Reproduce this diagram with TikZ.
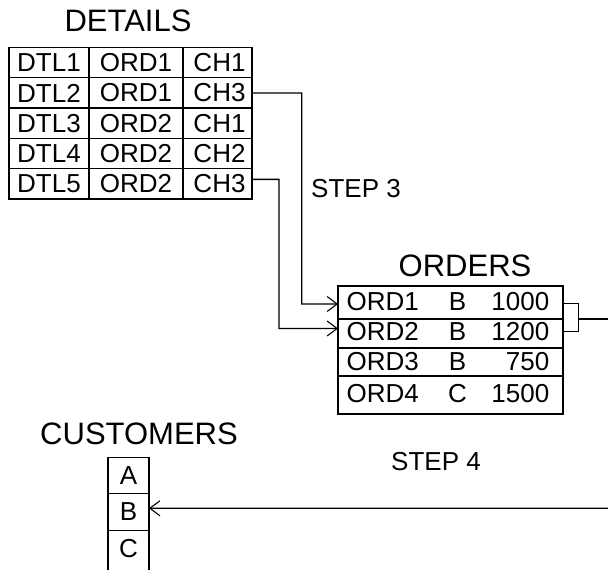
\documentclass[tikz,border=0pt]{standalone}
\usepackage{fontspec}
\setmainfont{Liberation Sans}
\usetikzlibrary{arrows.meta}
\begin{document}
\begin{tikzpicture}[x=1bp,y=-1bp,
  cell/.style={draw,line width=1.3bp,rectangle,inner sep=0pt,outer sep=0pt,anchor=north west},
  celltext/.style={font=\fontsize{26bp}{26bp}\selectfont,inner sep=0pt},
  title/.style={font=\fontsize{31bp}{31bp}\selectfont,inner sep=0pt},
  conn/.style={line width=1.3bp},
  arr/.style={conn,-{Straight Barb[length=10bp,width=15bp,line width=1.1bp]}}]
\clip (0,0) rectangle (608,570);
\fill[white] (0,0) rectangle (608,570);
% DETAILS
\node[title] (tdet) at (128,21) {DETAILS};
\foreach \r/\a/\b/\c [count=\i] in {1/DTL1/ORD1/CH1,2/DTL2/ORD1/CH3,3/DTL3/ORD2/CH1,4/DTL4/ORD2/CH2,5/DTL5/ORD2/CH3}{
  \pgfmathsetmacro{\yy}{47.5+(\i-1)*30.3}
  \node[cell,minimum width=80bp,minimum height=30.3bp] (d\i1) at (9,\yy) {};
  \node[cell,minimum width=94bp,minimum height=30.3bp] (d\i2) at (89,\yy) {};
  \node[cell,minimum width=69bp,minimum height=30.3bp] (d\i3) at (183,\yy) {};
  \node[celltext] at (d\i1.center) {\a};
  \node[celltext] at (d\i2.center) {\b};
  \node[celltext] at ([xshift=2bp]d\i3.center) {\c};
}
% ORDERS
\node[title] (tord) at (465,266) {ORDERS};
\node[cell,minimum width=225bp,minimum height=33bp] (o1) at (338,286) {};
\node[cell,minimum width=225bp,minimum height=29bp] (o2) at (338,319) {};
\node[cell,minimum width=225bp,minimum height=28bp] (o3) at (338,348) {};
\node[cell,minimum width=225bp,minimum height=38bp] (o4) at (338,376) {};
\foreach \i/\a/\b/\c/\y in {1/ORD1/B/1000/301.5,2/ORD2/B/1200/331.5,3/ORD3/B/750/362,4/ORD4/C/1500/393.5}{
  \node[celltext,anchor=west] (oa\i) at (346.5,\y) {\a};
  \node[celltext] (ob\i) at (457.5,\y) {\b};
  \node[celltext,anchor=east] (oc\i) at (549.5,\y) {\c};
}
% CUSTOMERS
\node[title] (tcus) at (139,434) {CUSTOMERS};
\node[cell,minimum width=41bp,minimum height=36bp] (c1) at (108,457.5) {};
\node[cell,minimum width=41bp,minimum height=37bp] (c2) at (108,493.5) {};
\node[cell,minimum width=41bp,minimum height=45bp] (c3) at (108,530.5) {};
\node[celltext] at (c1.center) {A};
\node[celltext] at (c2.center) {B};
\node[celltext] at ([yshift=4.5bp]c3.center) {C};
% labels
\node[celltext] (s3) at (356,189) {STEP 3};
\node[celltext] (s4) at (436,462) {STEP 4};
% connectors
\draw[arr] (d23.east) -| (301.7,304) -- ([yshift=-1.5bp]o1.west);
\draw[arr] ([yshift=4.5bp]d53.east) -| (279,328.5) -- ([yshift=5bp]o2.west);
\coordinate (br) at (578.3,319);
\coordinate (rend) at (612,319);
\draw[conn] ([yshift=-0.8bp]o1.east) -| (br) |- ([yshift=1.8bp]o2.east);
\draw[conn] (br) -- (rend);
\coordinate (cend) at (612,508.3);
\draw[arr] (cend) -- ([yshift=3.7bp]c2.east);
\end{tikzpicture}
\end{document}
